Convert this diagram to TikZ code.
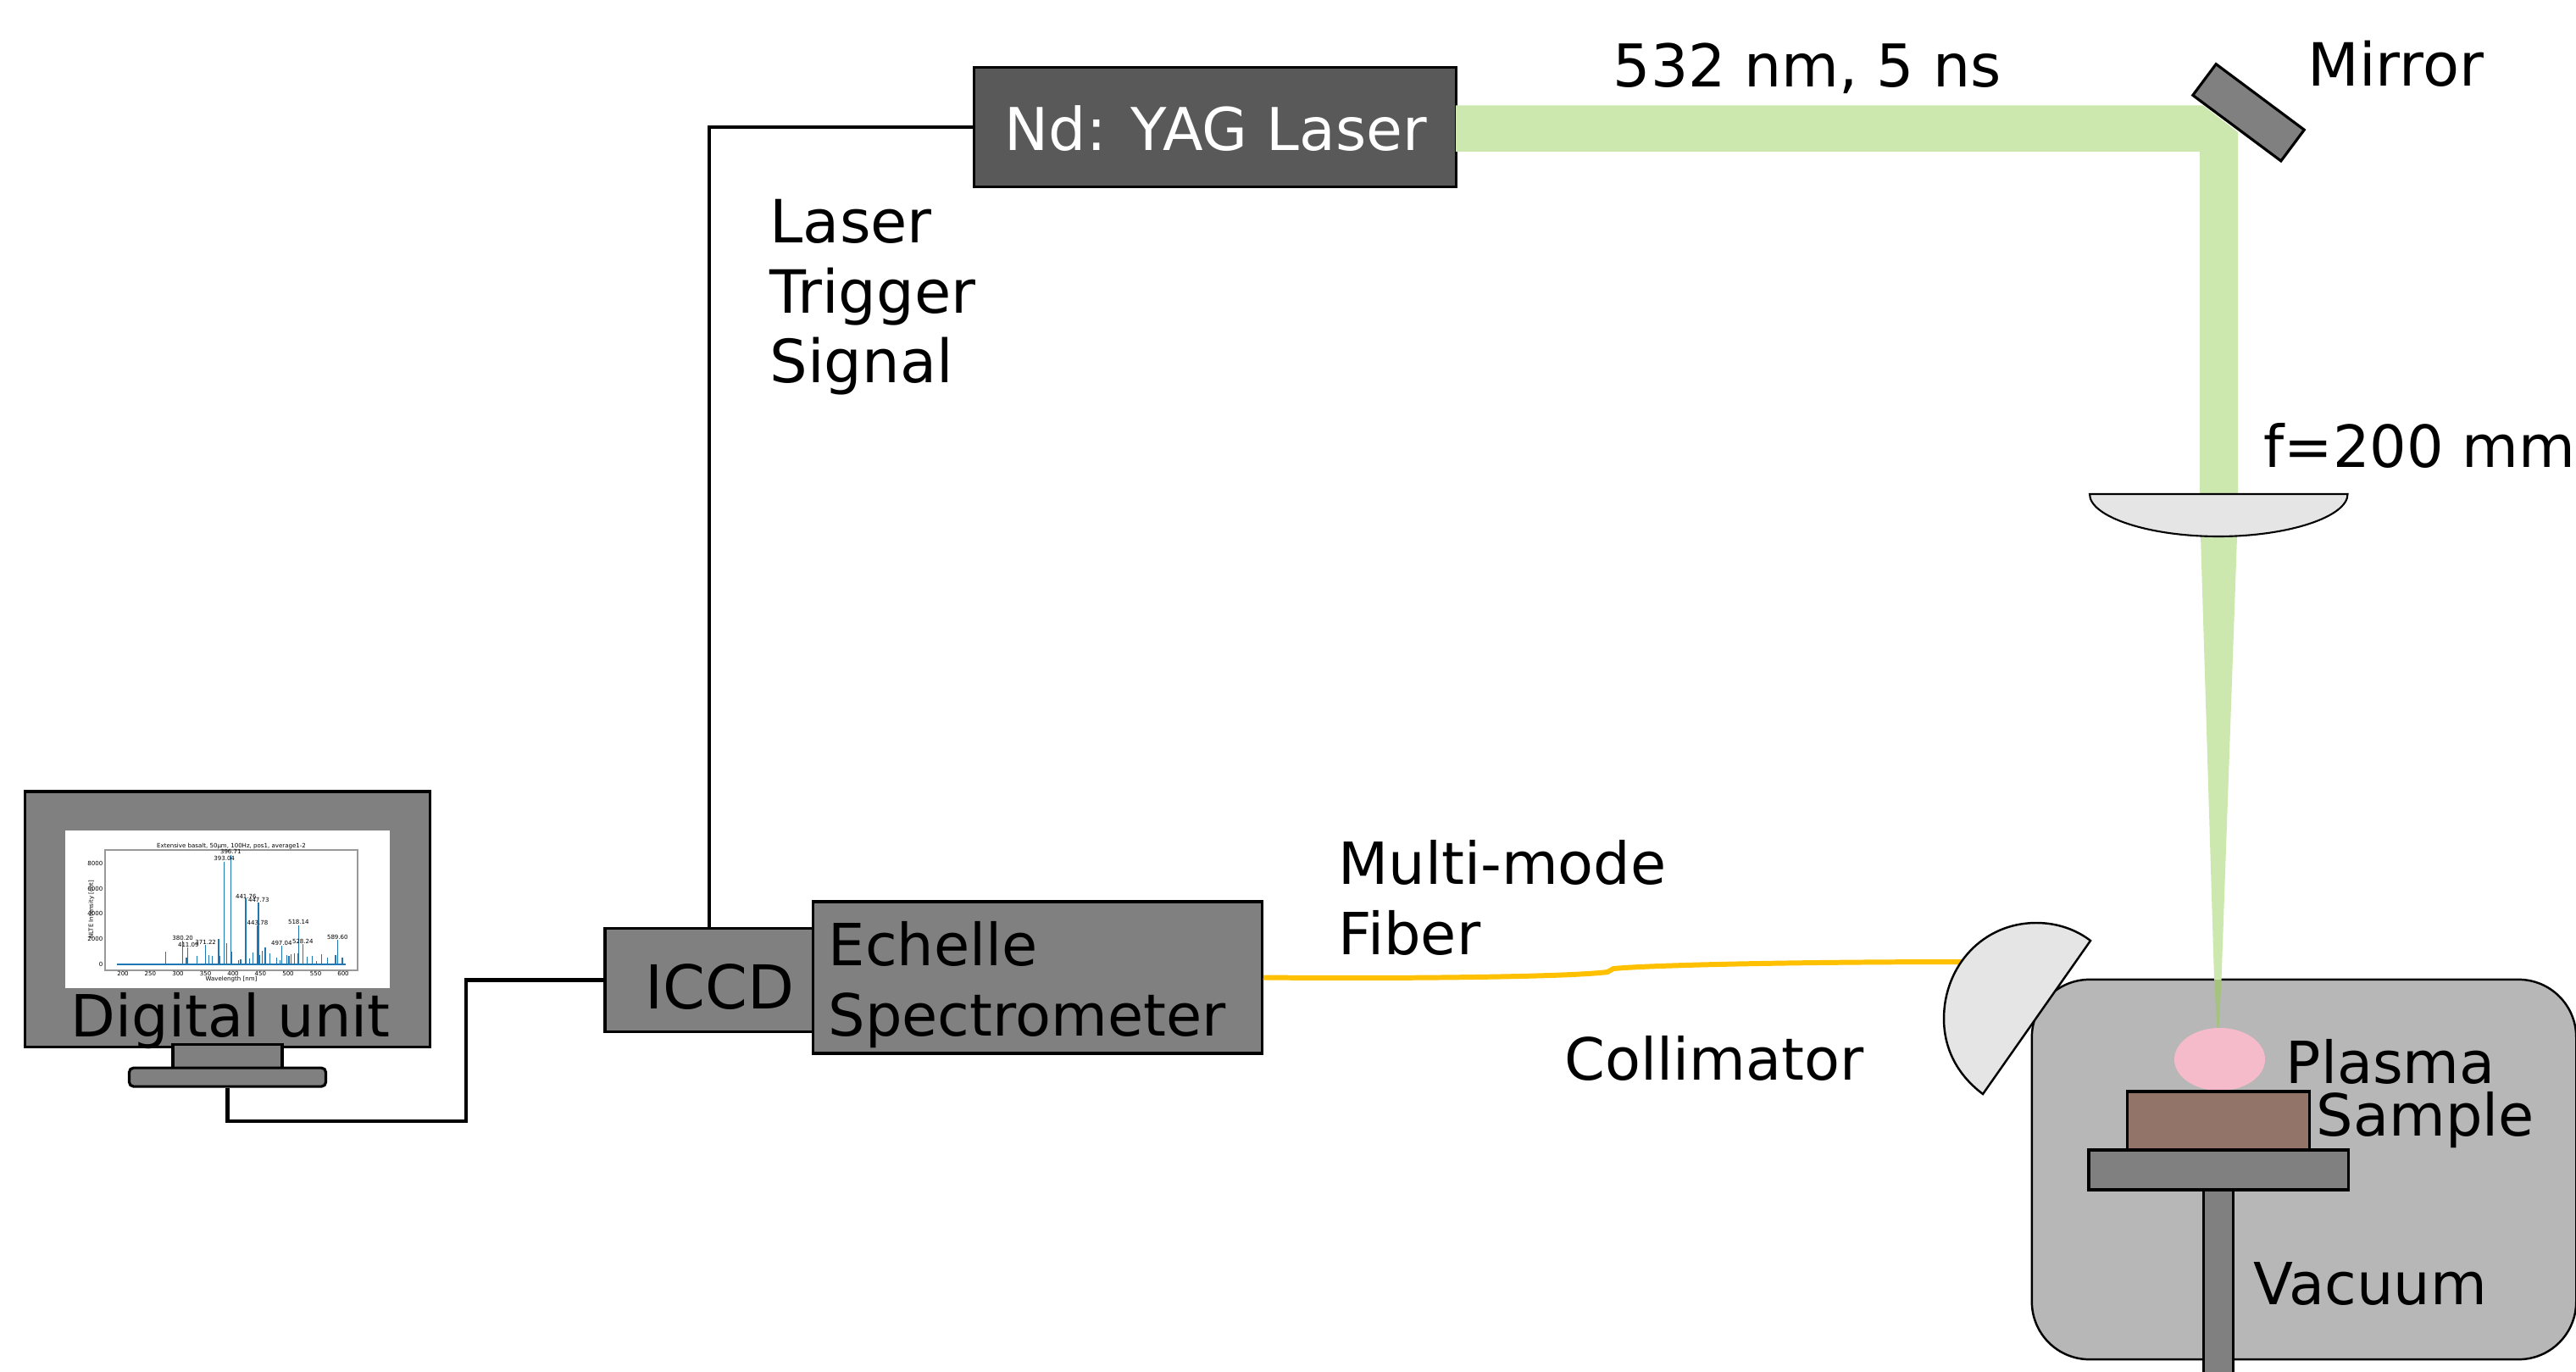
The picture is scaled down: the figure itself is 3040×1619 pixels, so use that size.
\documentclass[tikz,border=0pt]{standalone}
\usepackage{fontspec}
\setmainfont{DejaVu Sans}
\usetikzlibrary{shapes.geometric}
\definecolor{beamgreen}{HTML}{CDE8AE}
\definecolor{beamdark}{HTML}{A5C27E}
\definecolor{boxgray}{HTML}{808080}
\definecolor{lasergray}{HTML}{595959}
\definecolor{vacgray}{HTML}{B7B7B7}
\definecolor{lensgray}{HTML}{E5E5E5}
\definecolor{plasmapink}{HTML}{F6BBCB}
\definecolor{samplebrown}{HTML}{937468}
\definecolor{fibergold}{HTML}{FFC000}
\definecolor{specblue}{HTML}{1F77B4}

\begin{document}
\begin{tikzpicture}[x=0.01cm,y=-0.01cm]
\tikzstyle{part}=[rectangle,draw=black,line width=0.9pt,fill=boxgray,inner sep=0pt]
\tikzstyle{caption}=[inner sep=0pt,anchor=base west,font=\fontsize{19.5}{23.6}\selectfont,align=left]
\tikzstyle{wire}=[draw=black,line width=1.2pt]
\tikzstyle{tinytext}=[inner sep=0pt,font=\fontsize{2}{2}\selectfont]
\useasboundingbox (0,0) rectangle (3040,1619);

\begin{scope}
    % Laser and beam
    \node [part,fill=lasergray,minimum width=5.68cm,minimum height=1.415cm](laser) at (1434,150){};
    \fill[beamgreen] (1718,124.5) -- (2600,124.5) -- (2641,156) -- (2641,583) -- (2596,583) -- (2596,179) -- (1718,179) -- cycle;
    \node [part,rotate=-36.7,minimum width=1.297cm,minimum height=0.458cm](mirror) at (2653.5,132.8){};

    % Chamber
    \node [part,fill=vacgray,rounded corners=0.68cm,line width=0.7pt,minimum width=6.42cm,minimum height=4.48cm](chamber) at (2719,1380){};
    \fill[beamgreen] (2597,633) -- (2640,633) -- (2621.5,1156) -- (2613,1156) -- cycle;
    \fill[beamdark] (2613,1156) -- (2621.5,1156) -- (2618.5,1213) -- (2616.5,1213) -- cycle;
    \draw[black,line width=0.6pt,fill=lensgray] (2466,583) -- (2770.5,583) .. controls (2770.5,610) and (2700,633) .. (2618,633) .. controls (2536,633) and (2466,610) .. (2466,583) -- cycle;
    \node [ellipse,fill=plasmapink,inner sep=0pt,minimum width=1.07cm,minimum height=0.74cm](plasma) at (2619.5,1250){};
    \node [part,fill=samplebrown,minimum width=2.15cm,minimum height=0.69cm](sample) at (2618,1322.5){};
    \node [part,node distance=0.58cm,below of=sample,minimum width=3.06cm,minimum height=0.47cm](stage){};
    \node [part,node distance=1.41cm,below of=stage,minimum width=0.35cm,minimum height=2.35cm](rod){};

    % Spectrometer
    \node [part,minimum width=2.46cm,minimum height=1.22cm](iccd) at (837,1156.5){};
    \node [part,minimum width=5.29cm,minimum height=1.79cm](spec) at (1224.5,1153.5){};

    % Fiber
    \coordinate (kink_a) at (1897,1147);
    \coordinate (kink_b) at (1904,1143);
    \coordinate (coll_in) at (2320,1135);
    \draw[fibergold,line width=1.7pt] (spec.east) .. controls (1650,1155) and (1850,1153) .. (kink_a) -- (kink_b) .. controls (1960,1138) and (2150,1135) .. (coll_in);
    \draw[black,line width=0.7pt,fill=lensgray] (2467,1110) .. controls (2450,1097) and (2428,1089) .. (2403,1089) .. controls (2340,1089) and (2294,1140) .. (2294,1202) .. controls (2294,1240) and (2312,1270) .. (2340,1291) -- cycle;

    % Digital unit
    \node [part,minimum width=4.77cm,minimum height=3.01cm](monitor) at (268.5,1084.5){};
    \node [part,node distance=1.615cm,below of=monitor,minimum width=1.29cm,minimum height=0.28cm](stand){};
    \node [part,rounded corners=1.5pt,node distance=0.25cm,below of=stand,minimum width=2.32cm,minimum height=0.22cm](base){};
    \node [rectangle,fill=white,inner sep=0pt,minimum width=3.83cm,minimum height=1.86cm](screen) at (268.5,1073){};

    % Spectrum on screen
    \draw[black!40,line width=0.4pt] (124,1003) rectangle (422,1145);
    \draw[specblue,line width=0.6pt] (138,1138) -- (408,1138);
    \foreach \a/\b in {407/460,467/420,485/445,480/480,517/475,548/435,560/472,572/475,594/415,598/475,613/140,622/430,637/118,640/460,665/488,672/486,690/270,692/450,703/482,715/462,730/365,735/285,740/470,748/455,759/445,775/465,800/480,812/488,817/438,835/472,843/475,850/468,862/465,875/465,877/365,892/432,907/478,925/473,940/493,958/468,980/480,1008/470,1015/417,1032/480}
        \draw[specblue,line width=0.3pt] ({60+\a/3},1138) -- ({60+\a/3},{970+\b/3});
    \node [tinytext](plot_title) at (273,999){Extensive basalt, 50µm, 100Hz, pos1, average1-2};
    \node [tinytext](plot_xlabel) at (273,1155.5){Wavelength [nm]};
    \node [tinytext,rotate=90](plot_ylabel) at (108,1073){NLTE Intensity [cnt]};
    \foreach \t/\a in {200/255,250/352,300/450,350/548,400/645,450/742,500/840,550/938,600/1035}
        \node [tinytext](xtick\t) at ({60+\a/3},1149){\t};
    \foreach \t/\b in {0/503,2000/414,4000/325,6000/237,8000/148}
        \node [tinytext,anchor=east](ytick\t) at (122,{970+\b/3}){\t};
    \foreach \t/\a/\b in {380.20/467/410,411.09/487/436,371.22/548/426,393.04/614/130,396.71/637/106,441.76/691/263,447.73/736/277,443.78/732/358,497.04/817/430,518.14/877/355,528.24/892/423,589.60/1015/409}
        \node [tinytext](peak\t) at ({60+\a/3},{970+\b/3}){\t};

    % Connections
    \draw[wire] (laser.west) -| (iccd.north);
    \coordinate (cable_b) at (550,1323);
    \draw[wire] (base.south) |- (cable_b) |- (iccd.west);

    % Labels
    \node [caption,text=white,font=\fontsize{19.8}{23.6}\selectfont](laser_text) at (1185,178){Nd: YAG Laser};
    \node [caption,font=\fontsize{19.8}{23.6}\selectfont](pulse_text) at (1903,103){532 nm, 5 ns};
    \node [caption,font=\fontsize{20}{23.6}\selectfont](mirror_text) at (2723,102){Mirror};
    \node [caption](focal_text) at (2671,552){f=200 mm};
    \node [caption,font=\fontsize{20}{23.6}\selectfont](trigger_text) at (908,452){Laser\\Trigger\\Signal};
    \node [caption](fiber_text) at (1579,1126){Multi-mode\\Fiber};
    \node [caption](coll_text) at (1846,1274){Collimator};
    \node [caption](plasma_text) at (2697,1278){Plasma};
    \node [caption](sample_text) at (2733,1340){Sample};
    \node [caption](vacuum_text) at (2659,1539){Vacuum};
    \node [caption,font=\fontsize{20.3}{23.6}\selectfont](iccd_text) at (761,1190){ICCD};
    \node [caption](spec_text) at (977,1222){Echelle\\Spectrometer};
    \node [caption](digital_text) at (83,1223){Digital unit};
\end{scope}
\end{tikzpicture}
\end{document}
